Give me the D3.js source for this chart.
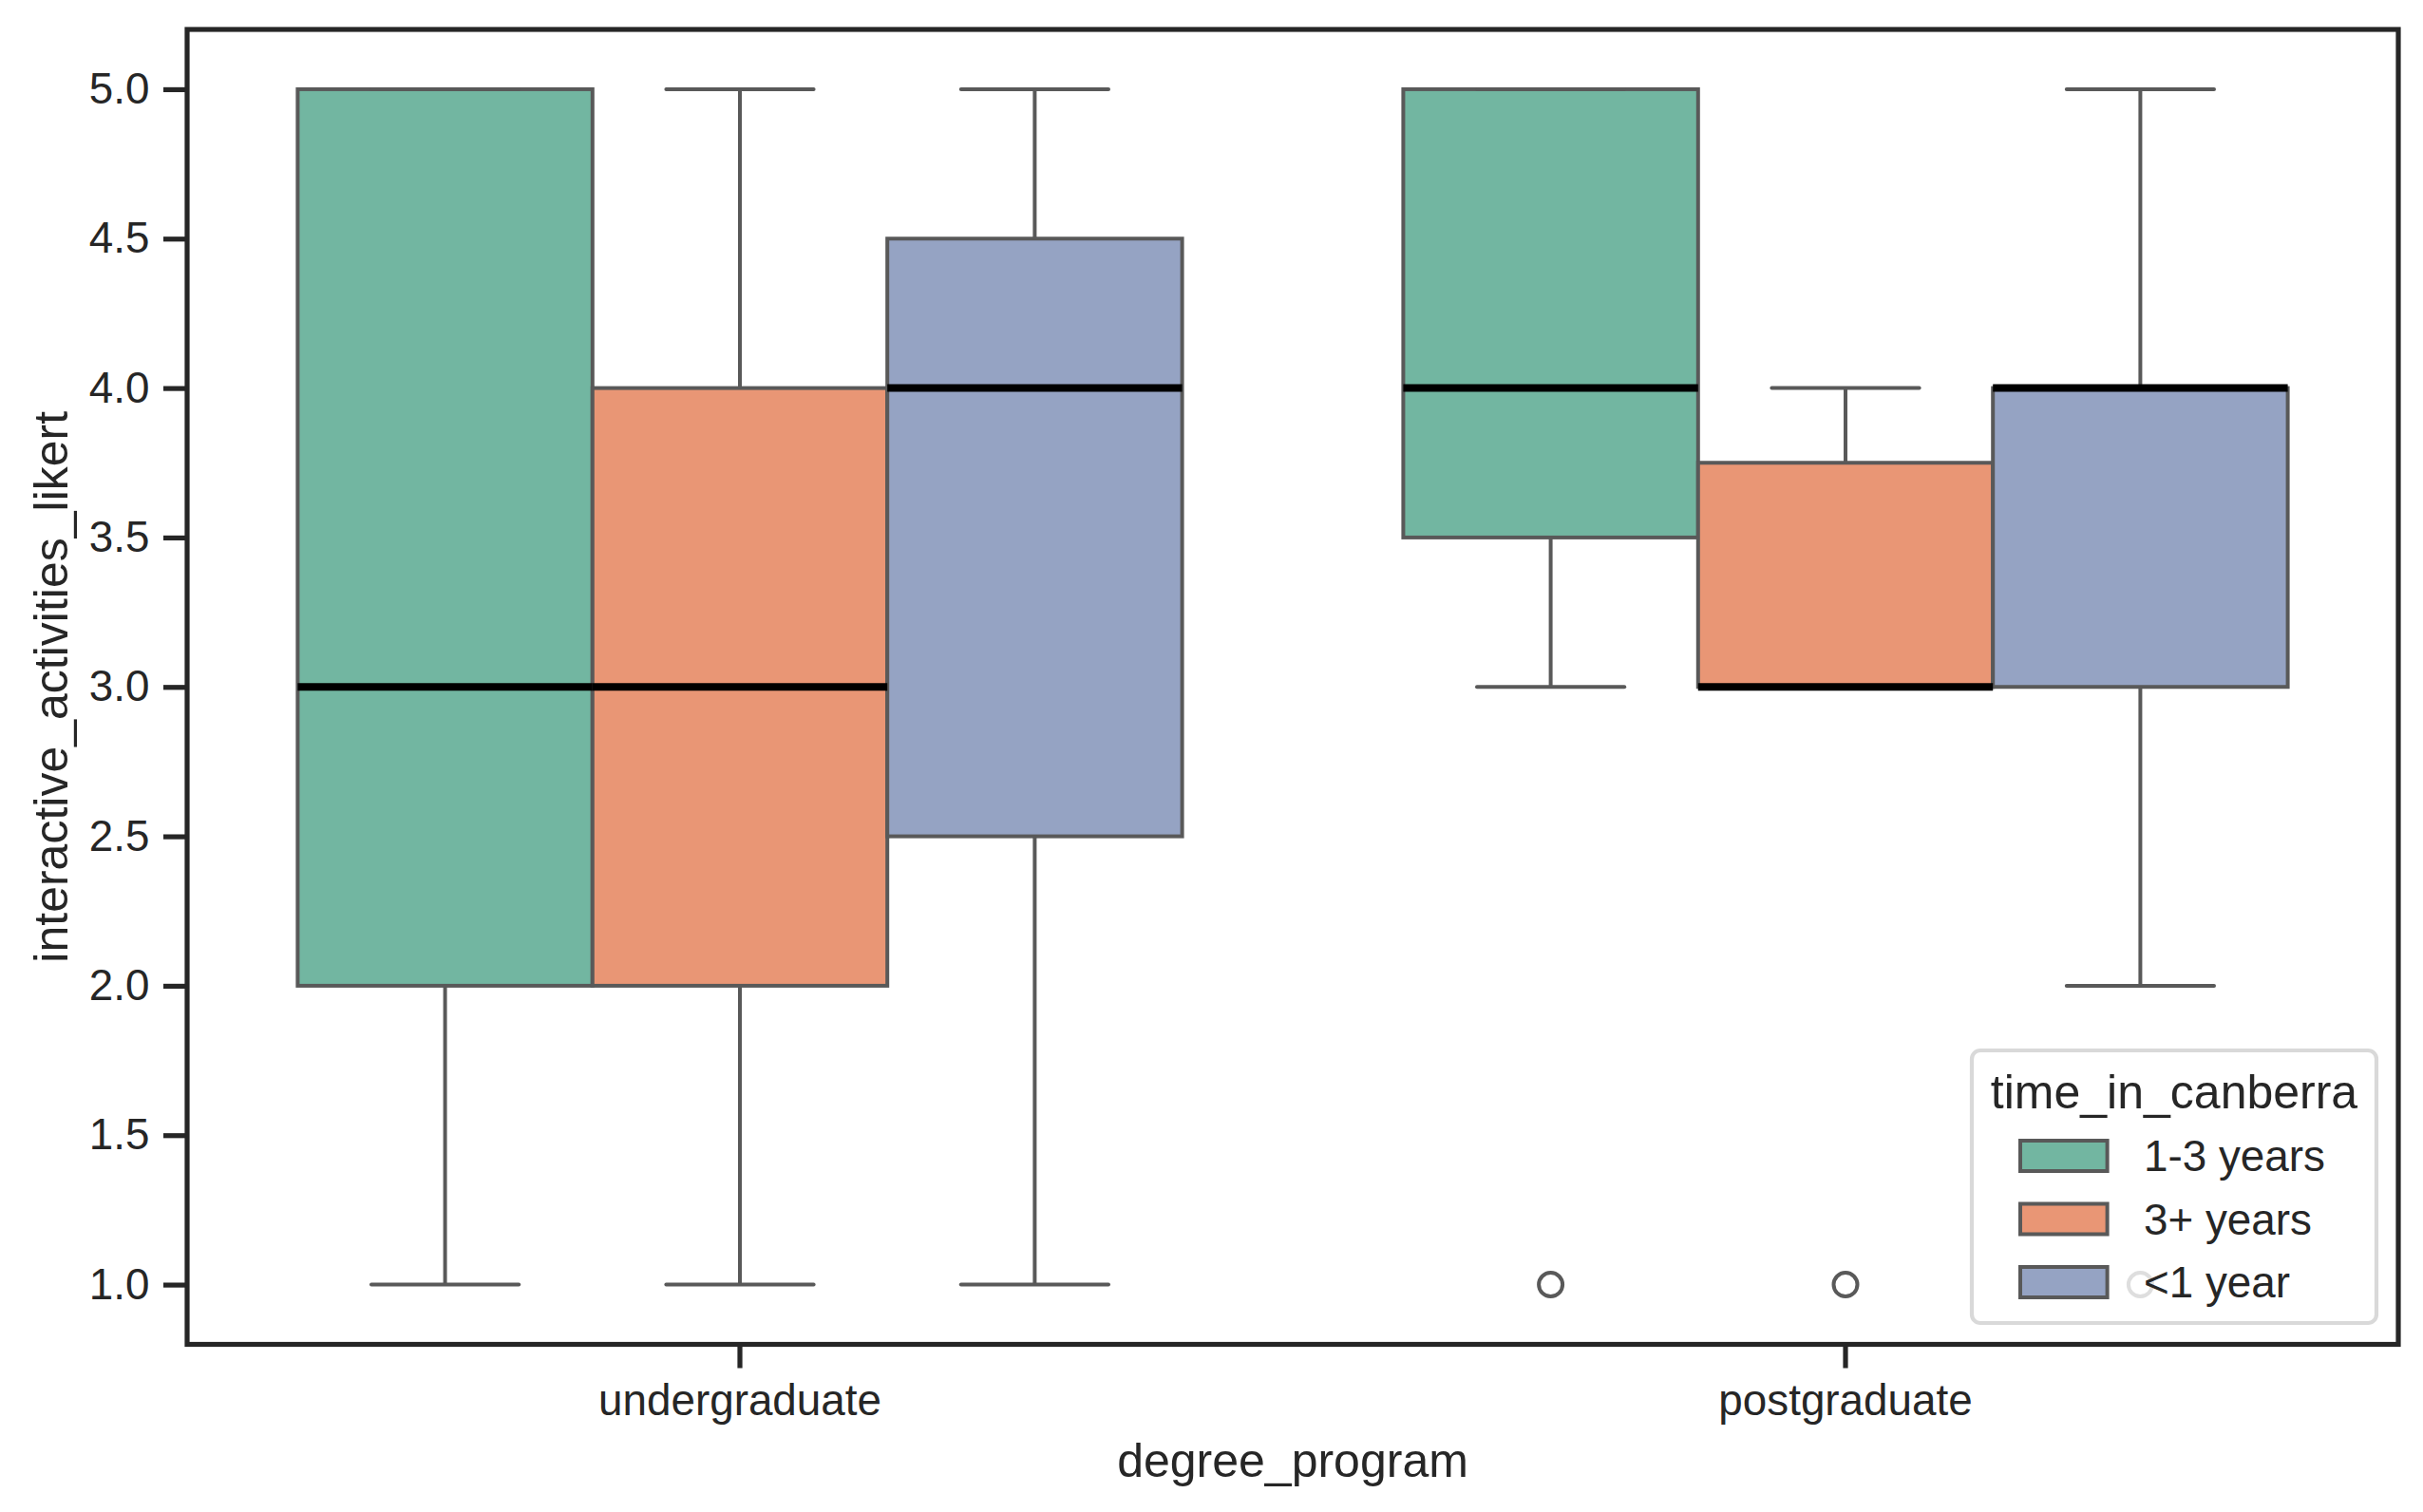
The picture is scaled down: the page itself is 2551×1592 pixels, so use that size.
<!DOCTYPE html>
<html>
<head>
<meta charset="utf-8">
<script src="https://cdn.jsdelivr.net/npm/d3@7"></script>
<style>
  body { margin: 0; background: #fff; }
  text { font-family: "Liberation Sans", Arial, sans-serif; fill: #262626; }
</style>
</head>
<body>
<svg id="chart" width="2551" height="1592"></svg>
<script>
// categories and hue levels
const categories = ["undergraduate", "postgraduate"];
const hues = ["1-3 years", "3+ years", "<1 year"];
const hueColors = ["#72b6a1", "#e99675", "#95a3c3"];

// box stats, [category][hue]
const whiskerLow  = [[1, 1, 1],   [3, 3, 2]];
const q1          = [[2, 2, 2.5], [3.5, 3, 3]];
const median      = [[3, 3, 4],   [4, 3, 4]];
const q3          = [[5, 4, 4.5], [5, 3.75, 4]];
const whiskerHigh = [[5, 5, 5],   [5, 4, 5]];
const outliers    = [[[], [], []], [[1], [1], [1]]];

const yTicks = [1.0, 1.5, 2.0, 2.5, 3.0, 3.5, 4.0, 4.5, 5.0];

//Set screen size
const width = 2551;
const height = 1592;
const margin = {left: 197, right: 26, top: 31, bottom: 176.5};
const svg = d3.select("#chart");

const lineGray = "#595959";
const spine = "#262626";

// build box records
const boxes = [];
categories.forEach((c, i) => {
  hues.forEach((h, j) => {
    boxes.push({
      cat: c, hue: h, color: hueColors[j],
      lo: whiskerLow[i][j], q1: q1[i][j], med: median[i][j],
      q3: q3[i][j], hi: whiskerHigh[i][j], fliers: outliers[i][j]
    });
  });
});

// scales
const x = d3.scaleBand()
  .domain(categories)
  .range([margin.left, width - margin.right])
  .paddingInner(0.2)
  .paddingOuter(0.1);

const xHue = d3.scaleBand()
  .domain(hues)
  .range([0, x.bandwidth()]);

const y = d3.scaleLinear()
  .domain([0.8, 5.2])
  .range([height - margin.bottom, margin.top]);

const bw = xHue.bandwidth();
const boxX = d => x(d.cat) + xHue(d.hue);

// boxes
svg.append("g").selectAll("rect")
  .data(boxes)
  .enter()
  .append("rect")
  .attr("x", d => boxX(d))
  .attr("y", d => y(d.q3))
  .attr("width", bw)
  .attr("height", d => y(d.q1) - y(d.q3))
  .attr("fill", d => d.color)
  .attr("stroke", lineGray)
  .attr("stroke-width", 4);

// whiskers
const wg = svg.append("g").attr("stroke", lineGray).attr("stroke-width", 4);
boxes.forEach(d => {
  const cx = boxX(d) + bw / 2;
  wg.append("line").attr("x1", cx).attr("x2", cx).attr("y1", y(d.q1)).attr("y2", y(d.lo));
  wg.append("line").attr("x1", cx).attr("x2", cx).attr("y1", y(d.q3)).attr("y2", y(d.hi));
  // caps are half the box width
  wg.append("line").attr("x1", cx - bw / 4).attr("x2", cx + bw / 4)
    .attr("y1", y(d.lo)).attr("y2", y(d.lo)).attr("stroke-linecap", "round");
  wg.append("line").attr("x1", cx - bw / 4).attr("x2", cx + bw / 4)
    .attr("y1", y(d.hi)).attr("y2", y(d.hi)).attr("stroke-linecap", "round");
});

// medians
svg.append("g").selectAll("line")
  .data(boxes)
  .enter()
  .append("line")
  .attr("x1", d => boxX(d))
  .attr("x2", d => boxX(d) + bw)
  .attr("y1", d => y(d.med))
  .attr("y2", d => y(d.med))
  .attr("stroke", "#000")
  .attr("stroke-width", 8);

// fliers
const fliers = [];
boxes.forEach(d => d.fliers.forEach(v => fliers.push({cx: boxX(d) + bw / 2, v: v})));
svg.append("g").selectAll("circle")
  .data(fliers)
  .enter()
  .append("circle")
  .attr("cx", d => d.cx)
  .attr("cy", d => y(d.v))
  .attr("r", 12.5)
  .attr("fill", "none")
  .attr("stroke", lineGray)
  .attr("stroke-width", 4);

// axes
const fs = 45.8;
const yAxis = svg.append("g")
  .attr("transform", `translate(${margin.left},0)`)
  .call(d3.axisLeft(y).tickValues(yTicks).tickFormat(d3.format(".1f")).tickSize(25).tickPadding(14.6));
const xAxis = svg.append("g")
  .attr("transform", `translate(0,${height - margin.bottom})`)
  .call(d3.axisBottom(x).tickSize(25).tickPadding(17));

[xAxis, yAxis].forEach(g => {
  g.select(".domain").remove();
  g.selectAll(".tick line").attr("stroke", spine).attr("stroke-width", 5.2);
  g.selectAll(".tick text").attr("font-size", fs).style("fill", spine)
    .attr("font-family", "Liberation Sans, Arial, sans-serif");
});

// frame
svg.append("rect")
  .attr("x", margin.left)
  .attr("y", margin.top)
  .attr("width", width - margin.left - margin.right)
  .attr("height", height - margin.top - margin.bottom)
  .attr("fill", "none")
  .attr("stroke", spine)
  .attr("stroke-width", 5.2);

// axis labels
svg.append("text")
  .attr("x", (margin.left + width - margin.right) / 2)
  .attr("y", 1555)
  .attr("text-anchor", "middle")
  .attr("font-size", 50)
  .text("degree_program");

svg.append("text")
  .attr("transform", `translate(54,${(margin.top + height - margin.bottom) / 2}) rotate(-90)`)
  .attr("text-anchor", "middle")
  .attr("dominant-baseline", "central")
  .attr("font-size", 50)
  .text("interactive_activities_likert");

// legend
const lg = svg.append("g");
lg.append("rect")
  .attr("x", 2076).attr("y", 1106)
  .attr("width", 426).attr("height", 287)
  .attr("rx", 9)
  .attr("fill", "rgba(255,255,255,0.8)")
  .attr("stroke", "#d9d9d9")
  .attr("stroke-width", 4.2);

lg.append("text")
  .attr("x", 2289).attr("y", 1167)
  .attr("text-anchor", "middle")
  .attr("font-size", 50)
  .text("time_in_canberra");

hues.forEach((h, j) => {
  const cy = 1217 + j * 66.5;
  lg.append("rect")
    .attr("x", 2127).attr("y", cy - 16)
    .attr("width", 91.6).attr("height", 32)
    .attr("fill", hueColors[j])
    .attr("stroke", lineGray)
    .attr("stroke-width", 4);
  lg.append("text")
    .attr("x", 2257).attr("y", cy + 16)
    .attr("font-size", fs)
    .text(h);
});
</script>
</body>
</html>
